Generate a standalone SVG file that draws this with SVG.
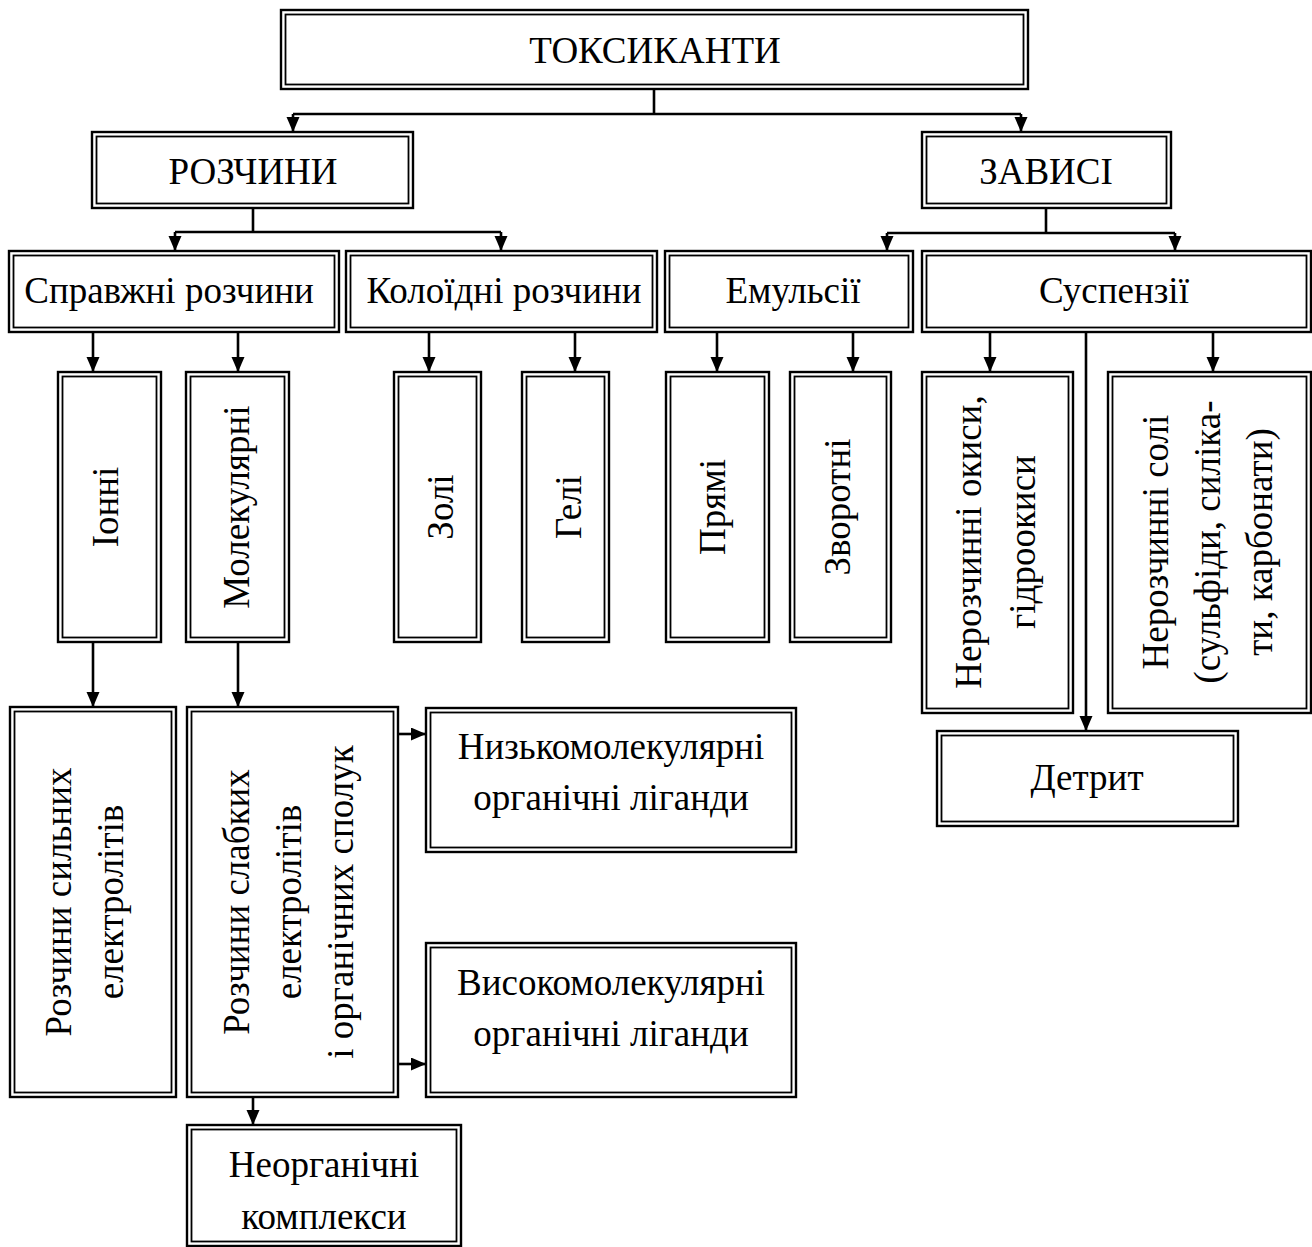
<svg xmlns="http://www.w3.org/2000/svg" width="1312" height="1247" viewBox="0 0 1312 1247">
<style>
.o{fill:#fff;stroke:#000;stroke-width:2.4}
.i{fill:none;stroke:#000;stroke-width:1.8}
text{font-family:"Liberation Serif","Times New Roman",serif;font-size:37px;fill:#000;text-anchor:middle}
.c{fill:none;stroke:#000;stroke-width:2.6}
</style>
<defs>
<marker id="a" markerUnits="userSpaceOnUse" markerWidth="16" markerHeight="14" refX="15" refY="6.5" orient="auto">
<path d="M0,0 L15,6.5 L0,13 z" fill="#000"/>
</marker>
</defs>
<rect width="1312" height="1247" fill="#fff"/>

<g id="connectors">
<path class="c" d="M654,89 V114 M293,114 H1021"/>
<path class="c" d="M293,114 V132" marker-end="url(#a)"/>
<path class="c" d="M1021,114 V132" marker-end="url(#a)"/>
<path class="c" d="M253,208 V232 M175,232 H501"/>
<path class="c" d="M175,232 V251" marker-end="url(#a)"/>
<path class="c" d="M501,232 V251" marker-end="url(#a)"/>
<path class="c" d="M1046,208 V233 M887,233 H1175"/>
<path class="c" d="M887,233 V251" marker-end="url(#a)"/>
<path class="c" d="M1175,233 V251" marker-end="url(#a)"/>
<path class="c" d="M93,332 V372" marker-end="url(#a)"/>
<path class="c" d="M238,332 V372" marker-end="url(#a)"/>
<path class="c" d="M429,332 V372" marker-end="url(#a)"/>
<path class="c" d="M575,332 V372" marker-end="url(#a)"/>
<path class="c" d="M717,332 V372" marker-end="url(#a)"/>
<path class="c" d="M853,332 V372" marker-end="url(#a)"/>
<path class="c" d="M990,332 V372" marker-end="url(#a)"/>
<path class="c" d="M1213,332 V372" marker-end="url(#a)"/>
<path class="c" d="M1086,332 V731" marker-end="url(#a)"/>
<path class="c" d="M93,642 V707" marker-end="url(#a)"/>
<path class="c" d="M238,642 V707" marker-end="url(#a)"/>
<path class="c" d="M398,734 H426" marker-end="url(#a)"/>
<path class="c" d="M398,1064 H426" marker-end="url(#a)"/>
<path class="c" d="M253,1097 V1125" marker-end="url(#a)"/>
</g>

<g id="toksykanty"><rect class="o" x="281" y="10" width="747" height="79"/><rect class="i" x="285.5" y="14.5" width="738" height="70"/><text x="655" y="63">ТОКСИКАНТИ</text></g>
<g id="rozchyny"><rect class="o" x="92" y="132" width="321" height="76"/><rect class="i" x="96.5" y="136.5" width="312" height="67"/><text x="253" y="184">РОЗЧИНИ</text></g>
<g id="zavysi"><rect class="o" x="922" y="132" width="249" height="76"/><rect class="i" x="926.5" y="136.5" width="240" height="67"/><text x="1046" y="184">ЗАВИСІ</text></g>

<g id="spravzhni"><rect class="o" x="9" y="251" width="330" height="81"/><rect class="i" x="13.5" y="255.5" width="321" height="72"/><text x="169" y="303">Справжні розчини</text></g>
<g id="koloidni"><rect class="o" x="346" y="251" width="311" height="81"/><rect class="i" x="350.5" y="255.5" width="302" height="72"/><text x="504" y="303">Колоїдні розчини</text></g>
<g id="emulsii"><rect class="o" x="665" y="251" width="248" height="81"/><rect class="i" x="669.5" y="255.5" width="239" height="72"/><text x="793" y="303">Емульсії</text></g>
<g id="suspenzii"><rect class="o" x="922" y="251" width="389" height="81"/><rect class="i" x="926.5" y="255.5" width="380" height="72"/><text x="1114" y="303">Суспензії</text></g>

<g id="ionni"><rect class="o" x="58" y="372" width="103" height="270"/><rect class="i" x="62.5" y="376.5" width="94" height="261"/><text transform="translate(118,507) rotate(-90)">Іонні</text></g>
<g id="molekuliarni"><rect class="o" x="186" y="372" width="103" height="270"/><rect class="i" x="190.5" y="376.5" width="94" height="261"/><text transform="translate(249,507) rotate(-90)">Молекулярні</text></g>
<g id="zoli"><rect class="o" x="394" y="372" width="87" height="270"/><rect class="i" x="398.5" y="376.5" width="78" height="261"/><text transform="translate(453,507) rotate(-90)">Золі</text></g>
<g id="geli"><rect class="o" x="522" y="372" width="87" height="270"/><rect class="i" x="526.5" y="376.5" width="78" height="261"/><text transform="translate(581,507) rotate(-90)">Гелі</text></g>
<g id="priami"><rect class="o" x="666" y="372" width="103" height="270"/><rect class="i" x="670.5" y="376.5" width="94" height="261"/><text transform="translate(725,507) rotate(-90)">Прямі</text></g>
<g id="zvorotni"><rect class="o" x="790" y="372" width="101" height="270"/><rect class="i" x="794.5" y="376.5" width="92" height="261"/><text transform="translate(850,507) rotate(-90)">Зворотні</text></g>
<g id="okysy"><rect class="o" x="922" y="372" width="151" height="341"/><rect class="i" x="926.5" y="376.5" width="142" height="332"/><text transform="translate(981,542) rotate(-90)">Нерозчинні окиси,</text><text transform="translate(1035,542) rotate(-90)">гідроокиси</text></g>
<g id="soli"><rect class="o" x="1108" y="372" width="203" height="341"/><rect class="i" x="1112.5" y="376.5" width="194" height="332"/><text transform="translate(1168,542) rotate(-90)">Нерозчинні солі</text><text transform="translate(1220,542) rotate(-90)">(сульфіди, силіка-</text><text transform="translate(1272,542) rotate(-90)">ти, карбонати)</text></g>
<g id="detryt"><rect class="o" x="937" y="731" width="301" height="95"/><rect class="i" x="941.5" y="735.5" width="292" height="86"/><text x="1087" y="790">Детрит</text></g>

<g id="sylnykh"><rect class="o" x="10" y="707" width="166" height="390"/><rect class="i" x="14.5" y="711.5" width="157" height="381"/><text transform="translate(71,902) rotate(-90)">Розчини сильних</text><text transform="translate(123,902) rotate(-90)">електролітів</text></g>
<g id="slabkykh"><rect class="o" x="187" y="707" width="211" height="390"/><rect class="i" x="191.5" y="711.5" width="202" height="381"/><text transform="translate(249,902) rotate(-90)">Розчини слабких</text><text transform="translate(301,902) rotate(-90)">електролітів</text><text transform="translate(353,902) rotate(-90)">і органічних сполук</text></g>
<g id="nyzkomolekuliarni"><rect class="o" x="426" y="708" width="370" height="144"/><rect class="i" x="430.5" y="712.5" width="361" height="135"/><text x="611" y="759">Низькомолекулярні</text><text x="611" y="810">органічні ліганди</text></g>
<g id="vysokomolekuliarni"><rect class="o" x="426" y="943" width="370" height="154"/><rect class="i" x="430.5" y="947.5" width="361" height="145"/><text x="611" y="995">Високомолекулярні</text><text x="611" y="1046">органічні ліганди</text></g>
<g id="neorganichni"><rect class="o" x="187" y="1125" width="274" height="121"/><rect class="i" x="191.5" y="1129.5" width="265" height="112"/><text x="324" y="1177">Неорганічні</text><text x="324" y="1229">комплекси</text></g>
</svg>
